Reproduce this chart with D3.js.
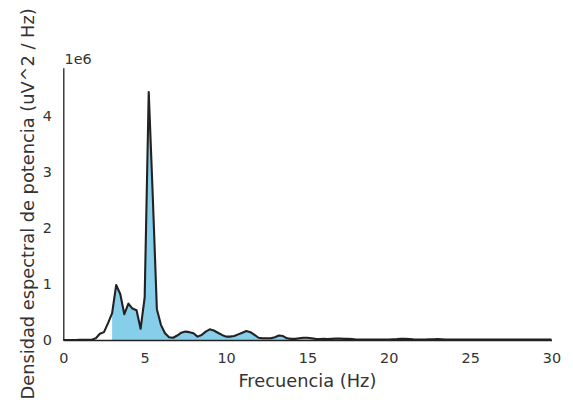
<!DOCTYPE html>
<html>
<head>
<meta charset="utf-8">
<script src="https://cdn.jsdelivr.net/npm/d3@7"></script>
<style>
  body { margin: 0; background: #fff; }
  svg { display: block; font-family: "DejaVu Sans", sans-serif; }
</style>
</head>
<body>
<div id="chart"></div>
<script>
// frequency grid (Hz), 0.25 Hz resolution
const freqs = [
  0, 0.25, 0.5, 0.75, 1, 1.25, 1.5, 1.75, 2, 2.25, 2.5, 2.75,
  3, 3.25, 3.5, 3.75, 4, 4.25, 4.5, 4.75, 5, 5.25, 5.5, 5.75,
  6, 6.25, 6.5, 6.75, 7, 7.25, 7.5, 7.75, 8, 8.25, 8.5, 8.75,
  9, 9.25, 9.5, 9.75, 10, 10.25, 10.5, 10.75, 11, 11.25, 11.5, 11.75,
  12, 12.25, 12.5, 12.75, 13, 13.25, 13.5, 13.75, 14, 14.25, 14.5, 14.75,
  15, 15.25, 15.5, 15.75, 16, 16.25, 16.5, 16.75, 17, 17.25, 17.5, 17.75,
  18, 18.25, 18.5, 18.75, 19, 19.25, 19.5, 19.75, 20, 20.25, 20.5, 20.75,
  21, 21.25, 21.5, 21.75, 22, 22.25, 22.5, 22.75, 23, 23.25, 23.5, 23.75,
  24, 24.25, 24.5, 24.75, 25, 25.25, 25.5, 25.75, 26, 26.25, 26.5, 26.75,
  27, 27.25, 27.5, 27.75, 28, 28.25, 28.5, 28.75, 29, 29.25, 29.5, 29.75, 30
];

// power spectral density, in units of 1e6 uV^2/Hz
const psd = [
  0.000, 0.001, 0.001, 0.001, 0.002, 0.002, 0.003, 0.005, 0.030, 0.110, 0.140, 0.300,
  0.480, 0.980, 0.820, 0.460, 0.650, 0.560, 0.530, 0.200, 0.760, 4.420, 2.550, 0.550,
  0.270, 0.120, 0.050, 0.040, 0.080, 0.130, 0.150, 0.140, 0.120, 0.060, 0.090, 0.150,
  0.190, 0.170, 0.130, 0.090, 0.060, 0.060, 0.070, 0.100, 0.130, 0.160, 0.140, 0.090,
  0.040, 0.030, 0.030, 0.030, 0.050, 0.080, 0.070, 0.030, 0.020, 0.020, 0.030, 0.040,
  0.040, 0.030, 0.020, 0.015, 0.020, 0.015, 0.020, 0.025, 0.025, 0.020, 0.020, 0.015,
  0.010, 0.010, 0.010, 0.009, 0.010, 0.009, 0.010, 0.010, 0.010, 0.012, 0.015, 0.020,
  0.020, 0.018, 0.012, 0.010, 0.010, 0.010, 0.011, 0.012, 0.015, 0.012, 0.010, 0.008,
  0.008, 0.008, 0.008, 0.007, 0.008, 0.008, 0.008, 0.008, 0.009, 0.010, 0.010, 0.010,
  0.009, 0.008, 0.007, 0.007, 0.007, 0.007, 0.007, 0.006, 0.006, 0.006, 0.006, 0.006, 0.006
];

const xTicks = [0, 5, 10, 15, 20, 25, 30];
const yTicks = [0, 1, 2, 3, 4];
const FILL_FROM = 3; // shaded band starts here (Hz)

const W = 573;
const H = 406;
const M = { top: 67.7, right: 21.5, bottom: 66, left: 63.3 };
const TEXT = "#333";
const INK = "#222";

const data = freqs.map((f, i) => ({ f, p: psd[i] }));

const x = d3.scaleLinear()
  .domain([0, 30])
  .range([M.left, W - M.right]);

const y = d3.scaleLinear()
  .domain([0, 4.855])
  .range([H - M.bottom, M.top]);

const svg = d3.select("#chart")
  .append("svg")
  .attr("width", W)
  .attr("height", H);

// shaded area
svg.append("path")
  .datum(data.filter((d) => d.f >= FILL_FROM))
  .attr("fill", "#87ceeb")
  .attr("d", d3.area()
    .x((d) => x(d.f))
    .y0(y(0))
    .y1((d) => y(d.p)));

// psd line
svg.append("path")
  .datum(data)
  .attr("fill", "none")
  .attr("stroke", INK)
  .attr("stroke-width", 2.1)
  .attr("stroke-linejoin", "round")
  .attr("d", d3.line()
    .x((d) => x(d.f))
    .y((d) => y(d.p)));

// axes
const gx = svg.append("g")
  .attr("transform", `translate(0,${y(0)})`)
  .call(d3.axisBottom(x)
    .tickValues(xTicks)
    .tickFormat(d3.format("d"))
    .tickSize(0)
    .tickSizeOuter(0)
    .tickPadding(13));

const gy = svg.append("g")
  .attr("transform", `translate(${x(0)},0)`)
  .call(d3.axisLeft(y)
    .tickValues(yTicks)
    .tickFormat(d3.format("d"))
    .tickSize(0)
    .tickSizeOuter(0)
    .tickPadding(11.5));

[gx, gy].forEach((g) => {
  g.select(".domain")
    .attr("stroke", INK)
    .attr("stroke-width", 1.3);
  g.selectAll("text")
    .attr("fill", TEXT)
    .attr("font-size", "14.4px")
    .attr("font-family", "DejaVu Sans");
});

// offset text
svg.append("text")
  .attr("x", 64.5)
  .attr("y", 64.3)
  .attr("fill", TEXT)
  .attr("font-size", "14.4px")
  .text("1e6");

// axis labels
svg.append("text")
  .attr("x", (x(0) + x(30)) / 2)
  .attr("y", 386.7)
  .attr("text-anchor", "middle")
  .attr("fill", TEXT)
  .attr("font-size", "17.8px")
  .text("Frecuencia (Hz)");

svg.append("text")
  .attr("transform", `translate(33.5,${(y(0) + y.range()[1]) / 2}) rotate(-90)`)
  .attr("text-anchor", "middle")
  .attr("fill", TEXT)
  .attr("font-size", "17.8px")
  .text("Densidad espectral de potencia (uV^2 / Hz)");
</script>
</body>
</html>
